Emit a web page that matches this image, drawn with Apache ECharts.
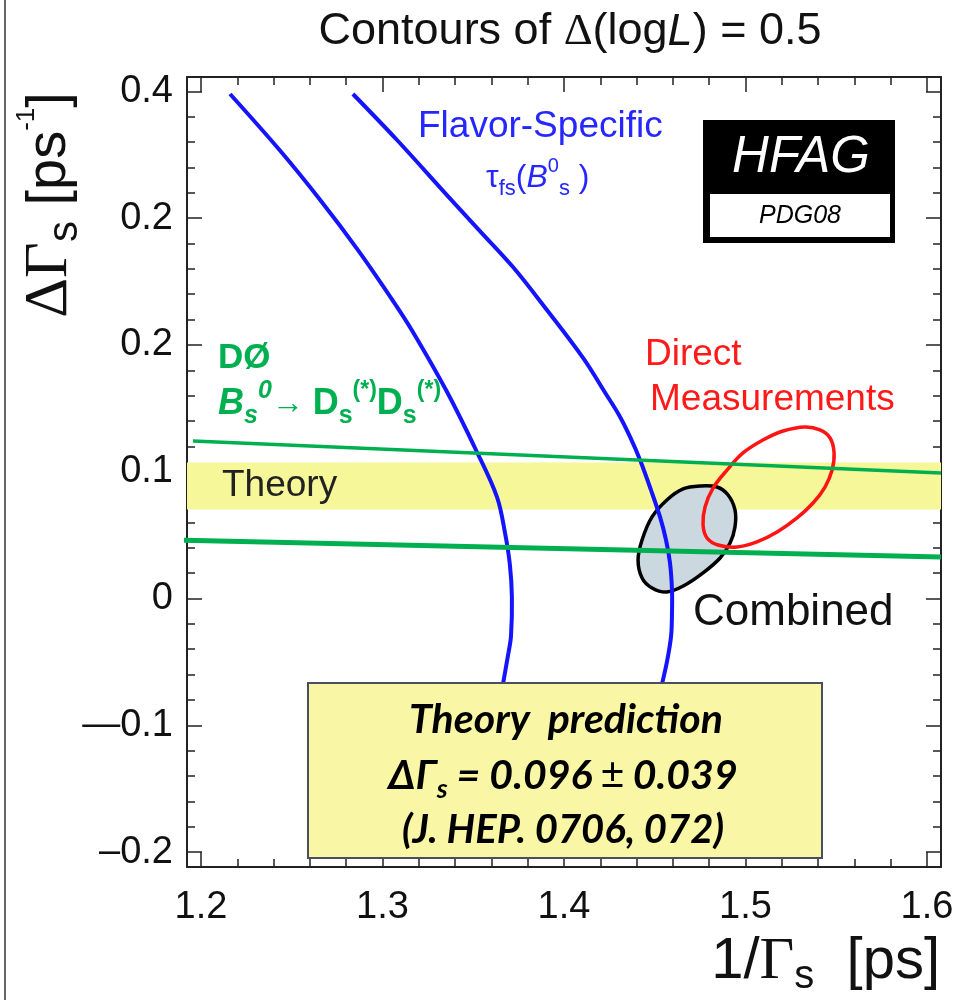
<!DOCTYPE html>
<html>
<head>
<meta charset="utf-8">
<script src="https://cdn.jsdelivr.net/npm/echarts@6/dist/echarts.min.js"></script>
<style>
  html, body { margin: 0; padding: 0; background: #fff; }
  #chart { width: 961px; height: 1000px; }
</style>
</head>
<body>
<div id="chart"></div>
<script>
// axis ranges and ticks
const xMin = 1.1923, xMax = 1.6077;
const yMin = -0.2118, yMax = 0.4113;
const xMajor = [1.2, 1.3, 1.4, 1.5, 1.6];
const xMinor = [1.2, 1.22, 1.24, 1.26, 1.28, 1.3, 1.32, 1.34, 1.36, 1.38, 1.4,
  1.42, 1.44, 1.46, 1.48, 1.5, 1.52, 1.54, 1.56, 1.58, 1.6];
const yMajor = [-0.2, -0.1, 0, 0.1, 0.2, 0.3, 0.4];
const yTickLabels = ['–0.2', '—0.1', '0', '0.1', '0.2', '0.2', '0.4'];
const yMinor = [-0.2, -0.18, -0.16, -0.14, -0.12, -0.1, -0.08, -0.06, -0.04, -0.02, 0,
  0.02, 0.04, 0.06, 0.08, 0.1, 0.12, 0.14, 0.16, 0.18, 0.2,
  0.22, 0.24, 0.26, 0.28, 0.3, 0.32, 0.34, 0.36, 0.38, 0.4];

// theory band (ΔΓs low / high)
const theoryBand = [0.0702, 0.1073];

// flavor-specific lifetime contours
const fsLeftX = [1.2160, 1.2433, 1.2657, 1.2865, 1.3055, 1.3161, 1.3350, 1.3515, 1.3631,
  1.3675, 1.3702, 1.3713, 1.3708, 1.3691, 1.3664, 1.3653];
const fsLeftY = [0.3979, 0.3537, 0.3143, 0.2748, 0.2354, 0.2118, 0.1644, 0.1171, 0.0800,
  0.0517, 0.0264, 0.0012, -0.0296, -0.0453, -0.0674, -0.0769];
const fsRightX = [1.2837, 1.3080, 1.3355, 1.3537, 1.3719, 1.3906, 1.4105, 1.4231, 1.4303,
  1.4364, 1.4419, 1.4479, 1.4529, 1.4562, 1.4584, 1.4595, 1.4595, 1.4590, 1.4567, 1.4540, 1.4523];
const fsRightY = [0.3979, 0.3616, 0.3182, 0.2898, 0.2614, 0.2275, 0.1897, 0.1613, 0.1447,
  0.1274, 0.1092, 0.0856, 0.0643, 0.0461, 0.0280, 0.0067, -0.0106, -0.0296, -0.0501, -0.0674, -0.0769];

// direct measurements contour
const directX = [1.5328, 1.5410, 1.5466, 1.5488, 1.5477, 1.5438, 1.5372, 1.5284, 1.5174, 1.5063,
  1.4953, 1.4848, 1.4788, 1.4766, 1.4777, 1.4821, 1.4898, 1.4986, 1.5096, 1.5207];
const directY = [0.1353, 0.1329, 0.1266, 0.1148, 0.1013, 0.0879, 0.0753, 0.0635, 0.0524, 0.0446,
  0.0406, 0.0422, 0.0477, 0.0580, 0.0722, 0.0871, 0.1013, 0.1148, 0.1250, 0.1321];

// combined contour
const combinedX = [1.4749, 1.4843, 1.4904, 1.4942, 1.4942, 1.4915, 1.4860, 1.4766, 1.4667,
  1.4567, 1.4485, 1.4430, 1.4408, 1.4430, 1.4485, 1.4567, 1.4656];
const combinedY = [0.0887, 0.0879, 0.0816, 0.0698, 0.0564, 0.0438, 0.0319, 0.0201, 0.0106,
  0.0051, 0.0083, 0.0162, 0.0304, 0.0461, 0.0643, 0.0777, 0.0864];

// D0 Bs -> Ds(*)Ds(*) band edges
const d0Upper = [[1.1956, 0.1242], [1.6077, 0.0990]];
const d0Lower = [[1.1862, 0.0461], [1.6077, 0.0327]];

const SANS = 'Liberation Sans, Arial, sans-serif';
const SERIF = 'Liberation Serif, Times New Roman, serif';
const LATO = 'Lato, Open Sans, sans-serif';
const FRAME = '#222';

function xAxis(position, ticks, len, showLine, showLabel) {
  return {
    type: 'value', position, min: xMin, max: xMax,
    axisLine: { show: showLine, onZero: false, lineStyle: { color: FRAME, width: 2 } },
    axisTick: { show: true, inside: true, length: len, customValues: ticks,
      lineStyle: { color: FRAME, width: 1.5 } },
    axisLabel: showLabel ? {
      show: true, customValues: xMajor, margin: 22, color: '#111',
      fontSize: 38, fontFamily: SANS,
      formatter: (v) => v.toFixed(1)
    } : { show: false },
    splitLine: { show: false }
  };
}

function yAxis(position, ticks, len, showLine, showLabel) {
  return {
    type: 'value', position, min: yMin, max: yMax,
    axisLine: { show: showLine, onZero: false, lineStyle: { color: FRAME, width: 2 } },
    axisTick: { show: true, inside: true, length: len, customValues: ticks,
      lineStyle: { color: FRAME, width: 1.5 } },
    axisLabel: showLabel ? {
      show: true, customValues: yMajor, margin: 14, color: '#111',
      fontSize: 38, fontFamily: SANS,
      formatter: (v) => {
        const i = yMajor.findIndex(t => Math.abs(t - v) < 1e-6);
        return i >= 0 ? yTickLabels[i] : '';
      }
    } : { show: false },
    splitLine: { show: false }
  };
}

// closed contour (polygon) or open curve (polyline), smoothed
function contour(xs, ys, closed, fill, stroke, width) {
  return {
    type: 'custom',
    coordinateSystem: 'cartesian2d',
    data: [0],
    silent: true,
    renderItem: (params, api) => {
      const points = xs.map((x, i) => api.coord([x, ys[i]]));
      return {
        type: closed ? 'polygon' : 'polyline',
        shape: { points, smooth: 0.35 },
        style: { fill: closed ? fill : null, stroke, lineWidth: width }
      };
    }
  };
}

function txt(x, y, text, opts) {
  const o = opts || {};
  return {
    type: 'text', x, y, z: o.z || 50, rotation: o.rotation || 0,
    style: Object.assign({
      text,
      fill: o.color || '#111',
      fontSize: o.fontSize || 36,
      fontFamily: o.fontFamily || SANS,
      fontWeight: o.fontWeight || 'normal',
      fontStyle: o.fontStyle || 'normal',
      align: o.align || 'left', textAlign: o.align || 'left',
      verticalAlign: 'middle', textVerticalAlign: 'middle'
    }, o.rich ? { rich: o.rich } : {})
  };
}

const chart = echarts.init(document.getElementById('chart'), null, { renderer: 'canvas' });

const option = {
  animation: false,
  grid: { left: 187, right: 20, top: 77, bottom: 133, containLabel: false },
  xAxis: [
    xAxis('bottom', xMajor, 15, true, true),
    xAxis('bottom', xMinor, 8, false, false),
    xAxis('top', xMajor, 15, true, false),
    xAxis('top', xMinor, 8, false, false)
  ],
  yAxis: [
    yAxis('left', yMajor, 15, true, true),
    yAxis('left', yMinor, 8, false, false),
    yAxis('right', yMajor, 15, true, false),
    yAxis('right', yMinor, 8, false, false)
  ],
  series: [
    {
      type: 'custom',
      coordinateSystem: 'cartesian2d',
      data: [theoryBand],
      silent: true,
      renderItem: (params, api) => {
        const p1 = api.coord([xMin, api.value(1)]);
        const p2 = api.coord([xMax, api.value(0)]);
        return {
          type: 'rect',
          shape: { x: p1[0], y: p1[1], width: p2[0] - p1[0], height: p2[1] - p1[1] },
          style: { fill: '#f5f799' }
        };
      }
    },
    contour(combinedX, combinedY, true, '#cbd8e0', '#000', 3.5),
    contour(fsLeftX, fsLeftY, false, null, '#1414ff', 4),
    contour(fsRightX, fsRightY, false, null, '#1414ff', 4),
    contour(directX, directY, true, 'none', '#ff1414', 3.5),
    {
      type: 'line', data: d0Upper, showSymbol: false, silent: true, clip: false,
      lineStyle: { color: '#00b050', width: 3.5 }
    },
    {
      type: 'line', data: d0Lower, showSymbol: false, silent: true, clip: false,
      lineStyle: { color: '#00b050', width: 5 }
    }
  ],
  graphic: [
    { type: 'line', shape: { x1: 5, y1: 0, x2: 5, y2: 1000 }, style: { stroke: '#666', lineWidth: 2 } },
    // title
    txt(570, 32, '{n|Contours of }{g|Δ}{n|(log}{i|L}{n|) = 0.5}', {
      align: 'center',
      rich: {
        n: { fontSize: 45, fontFamily: SANS, fill: '#111' },
        g: { fontSize: 45, fontFamily: SERIF, fill: '#111' },
        i: { fontSize: 45, fontFamily: SANS, fontStyle: 'italic', fill: '#111' }
      }
    }),
    // y axis name
    txt(50, 205, '{g|ΔΓ}{sub|s}{n| [ps}{sup|-1}{n|]}', {
      align: 'center', rotation: Math.PI / 2,
      rich: {
        g: { fontSize: 62, fontFamily: SERIF, lineHeight: 72, fill: '#111' },
        n: { fontSize: 56, fontFamily: SANS, lineHeight: 72, fill: '#111' },
        sub: { fontSize: 42, fontFamily: SANS, lineHeight: 36, verticalAlign: 'bottom', fill: '#111' },
        sup: { fontSize: 26, fontFamily: SANS, lineHeight: 40, verticalAlign: 'top', fill: '#111' }
      }
    }),
    // x axis name
    txt(940, 962, '{n|1/}{g|Γ}{sub|s}{n|  [ps]}', {
      align: 'right',
      rich: {
        n: { fontSize: 58, fontFamily: SANS, lineHeight: 70, fill: '#111' },
        g: { fontSize: 60, fontFamily: SERIF, lineHeight: 70, fill: '#111' },
        sub: { fontSize: 40, fontFamily: SANS, lineHeight: 36, verticalAlign: 'bottom', fill: '#111' }
      }
    }),
    // flavor-specific label
    txt(418, 127, 'Flavor-Specific', { color: '#2626ff', fontSize: 37 }),
    txt(486, 178, '{n|τ}{sub|fs}{n|(}{i|B}{sup|0}{sub|s}{n| )}', {
      rich: {
        n: { fontSize: 32, fontFamily: SANS, lineHeight: 44, fill: '#2626ff' },
        i: { fontSize: 32, fontFamily: SANS, fontStyle: 'italic', lineHeight: 44, fill: '#2626ff' },
        sub: { fontSize: 22, fontFamily: SANS, lineHeight: 22, verticalAlign: 'bottom', fill: '#2626ff' },
        sup: { fontSize: 20, fontFamily: SANS, lineHeight: 22, verticalAlign: 'top', fill: '#2626ff' }
      }
    }),
    // D0 label
    txt(218, 358, 'DØ', { color: '#00b050', fontSize: 35, fontWeight: 'bold' }),
    txt(218, 404, '{bi|B}{bs|s}{bp|0}{a|→ }{b|D}{s|s}{p|(*)}{b|D}{s|s}{p|(*)}', {
      rich: {
        bi: { fontSize: 36, fontFamily: SANS, fontWeight: 'bold', fontStyle: 'italic', lineHeight: 50, fill: '#00b050' },
        b: { fontSize: 36, fontFamily: SANS, fontWeight: 'bold', lineHeight: 50, fill: '#00b050' },
        a: { fontSize: 32, fontFamily: SANS, lineHeight: 50, fill: '#00b050' },
        bs: { fontSize: 25, fontFamily: SANS, fontWeight: 'bold', fontStyle: 'italic', lineHeight: 26, verticalAlign: 'bottom', fill: '#00b050' },
        bp: { fontSize: 25, fontFamily: SANS, fontWeight: 'bold', fontStyle: 'italic', lineHeight: 26, verticalAlign: 'top', fill: '#00b050' },
        s: { fontSize: 25, fontFamily: SANS, fontWeight: 'bold', lineHeight: 26, verticalAlign: 'bottom', fill: '#00b050' },
        p: { fontSize: 23, fontFamily: SANS, fontWeight: 'bold', lineHeight: 26, verticalAlign: 'top', fill: '#00b050' }
      }
    }),
    // direct measurements
    txt(645, 355, 'Direct', { color: '#ff1a1a', fontSize: 37 }),
    txt(650, 400, 'Measurements', { color: '#ff1a1a', fontSize: 37 }),
    // theory band label
    txt(222, 486, 'Theory', { color: '#222', fontSize: 37 }),
    // combined
    txt(693, 613, 'Combined', { color: '#111', fontSize: 44 }),
    // HFAG logo
    { type: 'rect', z: 60, shape: { x: 703, y: 120, width: 192, height: 123 }, style: { fill: '#000' } },
    { type: 'rect', z: 61, shape: { x: 710, y: 194, width: 180, height: 43 }, style: { fill: '#fff' } },
    txt(801, 158, 'HFAG', { z: 62, align: 'center', color: '#fff', fontSize: 51, fontStyle: 'italic' }),
    txt(800, 216, 'PDG08', { z: 62, align: 'center', color: '#000', fontSize: 25, fontStyle: 'italic' }),
    // theory prediction box
    { type: 'rect', z: 100, shape: { x: 308, y: 683, width: 514, height: 175 },
      style: { fill: '#f9f7a6', stroke: '#4a4f5e', lineWidth: 2 } },
    txt(566, 720, 'Theory  prediction', { z: 101, align: 'center', fontSize: 41,
      fontFamily: LATO, fontWeight: 'bold', fontStyle: 'italic', color: '#000' }),
    txt(563, 776, '{t|ΔΓ}{s|s}{t| = 0.096 }{pm|±}{t| 0.039}', {
      z: 101, align: 'center',
      rich: {
        t: { fontSize: 41, fontFamily: LATO, fontWeight: 'bold', fontStyle: 'italic', lineHeight: 54, fill: '#000' },
        s: { fontSize: 27, fontFamily: LATO, fontWeight: 'bold', fontStyle: 'italic', lineHeight: 26, verticalAlign: 'bottom', fill: '#000' },
        pm: { fontSize: 41, fontFamily: SANS, lineHeight: 54, fill: '#000' }
      }
    }),
    txt(563, 830, '(J. HEP. 0706, 072)', { z: 101, align: 'center', fontSize: 40,
      fontFamily: LATO, fontWeight: 'bold', fontStyle: 'italic', color: '#000' })
  ]
};

chart.setOption(option);
</script>
</body>
</html>
